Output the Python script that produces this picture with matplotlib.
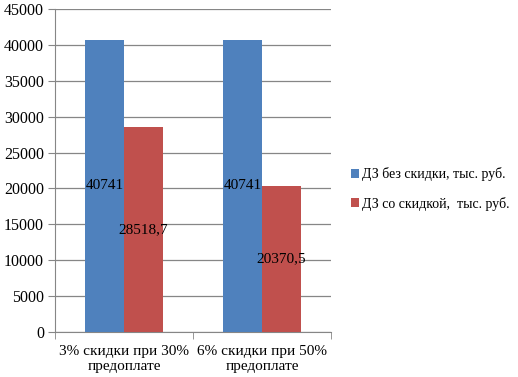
import matplotlib
matplotlib.use("Agg")
import matplotlib.pyplot as plt
import numpy as np

categories = ["3% скидки при 30%\nпредоплате", "6% скидки при 50%\nпредоплате"]
series_names = ["ДЗ без скидки, тыс. руб.", "ДЗ со скидкой,  тыс. руб."]
no_discount = [40741, 40741]
with_discount = [28518.7, 20370.5]
labels_no = ["40741", "40741"]
labels_with = ["28518,7", "20370,5"]
colors = ["#4F81BD", "#C0504D"]

plt.rcParams['font.family'] = ['Liberation Serif', 'DejaVu Serif']

fig = plt.figure(figsize=(5.18, 3.77), dpi=100)
W, H = 518, 377
ax = fig.add_axes([55 / W, 1 - 332 / H, (331 - 55) / W, (332 - 9) / H])

x = np.arange(len(categories))
bw = 0.283
b1 = ax.bar(x - bw / 2, no_discount, bw, color=colors[0], label=series_names[0], zorder=3)
b2 = ax.bar(x + bw / 2, with_discount, bw, color=colors[1], label=series_names[1], zorder=3)

fs = 11
for rect, lab in zip(b1, labels_no):
    ax.text(rect.get_x() + rect.get_width() / 2, rect.get_height() / 2, lab,
            ha='center', va='center', fontsize=fs, zorder=4)
for rect, lab in zip(b2, labels_with):
    ax.text(rect.get_x() + rect.get_width() / 2, rect.get_height() / 2, lab,
            ha='center', va='center', fontsize=fs, zorder=4)

ax.set_xlim(-0.5, 1.5)
ax.set_ylim(0, 45000)
ax.set_yticks(np.arange(0, 45001, 5000))
ax.yaxis.grid(True, color='#868686', linewidth=0.9, zorder=0)
ax.tick_params(axis='y', labelsize=11.5, length=5, color='#868686', pad=3)
ax.set_xticks(x)
ax.set_xticklabels(categories, fontsize=fs, linespacing=1.25)
ax.tick_params(axis='x', length=0, pad=9)
ax.set_xticks([-0.5, 0.5, 1.5], minor=True)
ax.tick_params(axis='x', which='minor', length=5, color='#868686')
for s in ['top', 'right']:
    ax.spines[s].set_visible(False)
for s in ['left', 'bottom']:
    ax.spines[s].set_color('#868686')

fig.legend(handles=[b1, b2], labels=series_names, loc='center left',
           bbox_to_anchor=(351 / W, 1 - 189 / H), frameon=False,
           borderpad=0, borderaxespad=0,
           fontsize=10, handlelength=0.6, handleheight=0.6, handletextpad=0.2,
           labelspacing=1.1)

fig.savefig("out.png", dpi=100)
